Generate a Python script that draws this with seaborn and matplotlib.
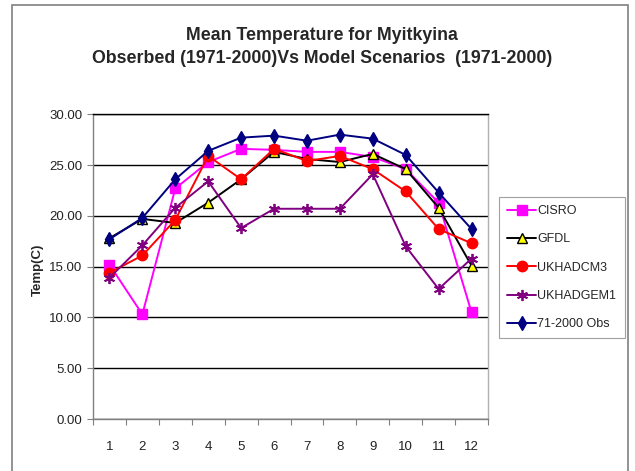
import matplotlib
matplotlib.use("Agg")
import matplotlib.pyplot as plt
from matplotlib.patches import Rectangle
from matplotlib.ticker import FixedLocator, FormatStrFormatter
import seaborn as sns
import pandas as pd

months = [1, 2, 3, 4, 5, 6, 7, 8, 9, 10, 11, 12]
csiro = [15.2, 10.3, 22.7, 25.3, 26.6, 26.5, 26.3, 26.3, 25.8, 24.6, 21.3, 10.5]
gfdl = [17.8, 19.7, 19.3, 21.3, 23.6, 26.3, 25.6, 25.3, 26.1, 24.6, 20.8, 15.1]
ukhadcm3 = [14.4, 16.1, 19.6, 25.9, 23.6, 26.6, 25.4, 25.9, 24.6, 22.4, 18.7, 17.3]
ukhadgem1 = [13.9, 17.1, 20.8, 23.4, 18.8, 20.7, 20.7, 20.7, 24.1, 17.0, 12.8, 15.8]
obs = [17.7, 19.8, 23.6, 26.4, 27.7, 27.9, 27.4, 28.0, 27.6, 26.0, 22.3, 18.7]
series_names = ["CISRO", "GFDL", "UKHADCM3", "UKHADGEM1", "71-2000 Obs"]
title_text = "Mean Temperature for Myitkyina\nObserbed (1971-2000)Vs Model Scenarios  (1971-2000)"
ylabel_text = "Temp(C)"

df = pd.DataFrame({
    "month": months * 5,
    "temp": csiro + gfdl + ukhadcm3 + ukhadgem1 + obs,
    "series": sum([[n] * 12 for n in series_names], []),
})

sns.set_style("white")
plt.rcParams["font.family"] = ["Liberation Sans", "DejaVu Sans"]

fig = plt.figure(figsize=(6.35, 4.71), dpi=100)
ax = fig.add_axes([93 / 635, 1 - 419 / 471, 395 / 635, (419 - 114.3) / 471])

styles = {
    "CISRO": dict(color="#ff00ff", marker="s", markersize=7.5, mfc="#ff00ff", mec="#ff00ff"),
    "GFDL": dict(color="black", marker="^", markersize=6.5, mfc="#ffff00", mec="black"),
    "UKHADCM3": dict(color="#ff0000", marker="o", markersize=7.5, mfc="#ff0000", mec="#ff0000"),
    "UKHADGEM1": dict(color="#800080", marker=(6, 2, 0), markersize=8, mfc="#800080", mec="#800080", mew=1.3),
    "71-2000 Obs": dict(color="#000080", marker="d", markersize=7.5, mfc="#000080", mec="#000080"),
}

for name in series_names:
    st = styles[name]
    sub = df[df["series"] == name]
    sns.lineplot(data=sub, x="month", y="temp", ax=ax, label=name, linewidth=1.4,
                 color=st["color"], marker=st["marker"], markersize=st["markersize"],
                 markerfacecolor=st["mfc"], markeredgecolor=st["mec"],
                 markeredgewidth=st.get("mew", 1.0), errorbar=None, zorder=3)

ax.set_xlim(0.5, 12.5)
ax.set_ylim(0, 30)
ax.set_yticks([0, 5, 10, 15, 20, 25, 30])
ax.yaxis.set_major_formatter(FormatStrFormatter("%.2f"))
ax.set_xticks(months)
ax.set_xticklabels([str(m) for m in months])
ax.xaxis.set_minor_locator(FixedLocator([i + 0.5 for i in range(0, 13)]))
ax.tick_params(axis="x", which="major", length=0, pad=16, labelsize=9.5, labelcolor="#222222")
ax.tick_params(axis="x", which="minor", length=4, width=0.8, color="#808080", bottom=True)
ax.tick_params(axis="y", which="major", length=4, width=0.8, color="#808080", left=True,
               pad=3.5, labelsize=9.5, labelcolor="#222222")

ax.yaxis.grid(True, color="black", linewidth=1.0)
ax.xaxis.grid(False)
ax.set_axisbelow(True)
ax.spines["left"].set_color("#808080")
ax.spines["bottom"].set_color("#808080")
ax.spines["right"].set_color("#b0b0b0")
ax.spines["top"].set_color("black")
for s in ax.spines.values():
    s.set_linewidth(1.0)

ax.set_xlabel("")
ax.set_ylabel(ylabel_text, fontsize=9.5, fontweight="bold", va="center")
ax.yaxis.set_label_coords((38 - 93) / 395, (419 - 270) / (419 - 114.3))

fig.text(322 / 635, 1 - 47 / 471, title_text, ha="center", va="center",
         fontsize=12.8, fontweight="bold", linespacing=1.4)

leg = ax.legend(loc="upper left", bbox_to_anchor=(499 / 635, 1 - 197 / 471),
                bbox_transform=fig.transFigure, frameon=True, fancybox=False,
                edgecolor="#a0a0a0", framealpha=1, fontsize=9, labelspacing=1.3,
                handlelength=2.3, handletextpad=0.12, borderpad=0.65, borderaxespad=0)
leg.get_frame().set_linewidth(0.8)

fig.patches.append(Rectangle((12 / 635, -0.05), (628 - 12) / 635, 1.05 - 5 / 471,
                             transform=fig.transFigure, fill=False,
                             edgecolor="#808080", linewidth=1.2))

fig.savefig("out.png", dpi=100)
